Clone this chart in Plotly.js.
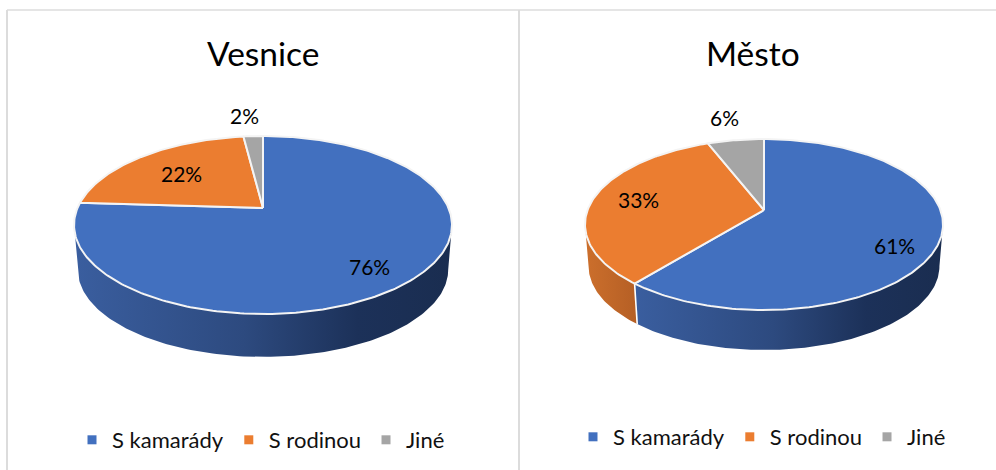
<!DOCTYPE html>
<html><head><meta charset="utf-8">
<script src="https://cdn.plot.ly/plotly-3.0.1.min.js"></script>
<style>html,body{margin:0;padding:0;background:#fff}#c{width:996px;height:470px}</style>
</head><body><div id="c"></div>
<script>
const categories = ['S kamarády', 'S rodinou', 'Jiné'];
const vesniceValues = [76, 22, 2];
const mestoValues = [61, 33, 6];
const chartTitles = ['Vesnice', 'Město'];

const topColors = ['#4270BF', '#EB7D30', '#A5A5A5'];
const sideScales = [
  [[0, '#3A5E9F'], [0.45, '#2D4A7F'], [0.75, '#1C3159'], [1, '#1A2D50']],
  [[0, '#CC6F2C'], [1, '#B55F25']],
  [[0, '#8A8A8A'], [1, '#6E6E6E']]
];
const FONT = 'Lato, "Open Sans", sans-serif';

const pies = [
  {values: vesniceValues, x: 'x', y: 'y', legend: 'legend', R: 185.5, H: 85.75, k: 0.191, dy: 45,
   labelR: [0.77, 0.65, 1.3], nudge: [[-3, 5], [0, 1], [-6, -3]]},
  {values: mestoValues, x: 'x2', y: 'y2', legend: 'legend2', R: 176.4, H: 83, k: 0.17, dy: 42,
   labelR: [0.75, 0.72, 1.3], nudge: [[0, 13], [-2, -1], [-4, -5]]}
];

function project(p, deg, r) {
  const t = deg * Math.PI / 180, u = r * Math.sin(t), v = r * Math.cos(t), w = 1 + p.k * v;
  return [p.R * u / w, -p.H * v / w];
}
function rim(p, a, b) {
  const n = Math.max(2, Math.ceil(Math.abs(b - a))), out = [];
  for (let i = 0; i <= n; i++) out.push(project(p, a + (b - a) * i / n, 1));
  return out;
}

const sides = [], tops = [], seams = [], keys = [], annotations = [];
pies.forEach(p => {
  const total = p.values.reduce((s, v) => s + v, 0);
  const thR = Math.acos(-p.k) * 180 / Math.PI, thL = 360 - thR;
  let acc = 0;
  p.values.forEach((v, i) => {
    const a = acc / total * 360, b = (acc + v) / total * 360;
    const ca = Math.max(a, thR), cb = Math.min(b, thL);
    if (cb > ca) {
      const up = rim(p, ca, cb);
      const down = up.slice().reverse().map(q => [q[0] * 0.98, q[1] * 0.98 + p.dy]);
      const pts = up.concat(down);
      sides.push({type: 'scatter', mode: 'lines', xaxis: p.x, yaxis: p.y, showlegend: false, hoverinfo: 'skip',
        x: pts.map(q => q[0]), y: pts.map(q => q[1]), fill: 'toself', line: {width: 0},
        fillcolor: topColors[i], fillgradient: {type: 'horizontal', colorscale: sideScales[i]}});
      if (a > thR && a < thL) {
        const s = project(p, a, 1);
        seams.push({type: 'scatter', mode: 'lines', xaxis: p.x, yaxis: p.y, showlegend: false, hoverinfo: 'skip',
          x: [s[0], s[0] * 0.98], y: [s[1], s[1] * 0.98 + p.dy], line: {color: '#fff', width: 1.6}});
      }
    }
    const edge = rim(p, a, b);
    const wedge = [[0, 0]].concat(edge, [[0, 0]]);
    tops.push({type: 'scatter', mode: 'lines', xaxis: p.x, yaxis: p.y, showlegend: false, name: categories[i],
      hoverinfo: 'name', x: wedge.map(q => q[0]), y: wedge.map(q => q[1]), fill: 'toself',
      fillcolor: topColors[i], line: {color: '#F4F4F4', width: 2}});
    const mid = project(p, (a + b) / 2, p.labelR[i]);
    annotations.push({xref: p.x, yref: p.y, x: mid[0], y: mid[1], text: v + '%', showarrow: false,
      xshift: p.nudge[i][0], yshift: -p.nudge[i][1], font: {family: FONT, size: 21, color: '#000'}});
    keys.push({type: 'scatter', mode: 'markers', xaxis: p.x, yaxis: p.y, x: [null], y: [null], name: categories[i],
      legend: p.legend, marker: {symbol: 'square', size: 9, color: topColors[i]}});
    acc += v;
  });
});

const titleStyle = {xref: 'paper', yref: 'paper', xanchor: 'center', yanchor: 'middle', showarrow: false,
  font: {family: FONT, size: 33.5, color: '#000'}};
annotations.push(Object.assign({x: 263 / 996, y: 1 - 53 / 470, text: chartTitles[0]}, titleStyle));
annotations.push(Object.assign({x: 753 / 996, y: 1 - 53 / 470, text: chartTitles[1]}, titleStyle));

const hidden = {visible: false, fixedrange: true};
const border = (x0, y0, x1, y1, w) => ({type: 'line', xref: 'paper', yref: 'paper',
  x0: x0 / 996, x1: x1 / 996, y0: 1 - y0 / 470, y1: 1 - y1 / 470, line: {color: '#DCDCDC', width: w}});

const legendBase = {orientation: 'h', yanchor: 'middle', xanchor: 'left', bgcolor: 'rgba(0,0,0,0)',
  font: {family: FONT, size: 22, color: '#111'}, itemwidth: 30, tracegroupgap: 0};

Plotly.newPlot('c', sides.concat(seams, tops, keys), {
  width: 996, height: 470, margin: {l: 0, r: 0, t: 0, b: 0}, paper_bgcolor: '#fff', plot_bgcolor: 'rgba(0,0,0,0)',
  xaxis: Object.assign({domain: [0, 519 / 996], range: [-263, 256]}, hidden),
  yaxis: Object.assign({domain: [0, 1], range: [262, -208]}, hidden),
  xaxis2: Object.assign({domain: [519 / 996, 1], range: [-245, 232]}, hidden),
  yaxis2: Object.assign({domain: [0, 1], range: [260, -210]}, hidden),
  legend: Object.assign({x: 72 / 996, y: 1 - 440 / 470}, legendBase),
  legend2: Object.assign({x: 573 / 996, y: 1 - 437 / 470}, legendBase),
  shapes: [border(7, 10, 7, 470, 2), border(7, 10, 996, 10, 1.5), border(519, 10, 519, 470, 2)],
  annotations: annotations
}, {displayModeBar: false});
</script></body></html>
